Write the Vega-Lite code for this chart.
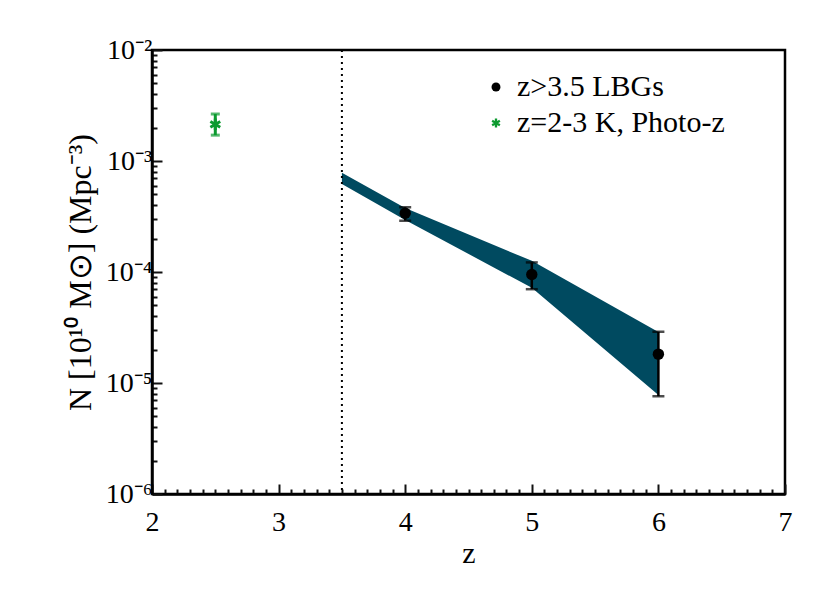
{
  "$schema": "https://vega.github.io/schema/vega-lite/v6.json",
  "width": 633,
  "height": 444,
  "autosize": "none",
  "padding": {"left": 152, "top": 50, "right": 45, "bottom": 99},
  "background": "white",
  "config": {
    "view": {"stroke": "black", "strokeWidth": 2.5},
    "font": "Liberation Serif",
    "legend": {"orient": "none", "legendX": 329, "legendY": 22, "title": null, "labelFont": "Liberation Serif", "labelFontSize": 30, "labelLimit": 0, "labelColor": "black", "symbolSize": 80, "rowPadding": 6, "labelOffset": 6, "symbolStrokeWidth": 0}
  },
  "datasets": {
    "band": [
      {"z": 3.5, "lo": 0.00062, "hi": 0.000785},
      {"z": 4, "lo": 0.000294, "hi": 0.000377},
      {"z": 5, "lo": 0.000072, "hi": 0.000126},
      {"z": 6, "lo": 0.0000078, "hi": 0.0000288}
    ],
    "pts": [
      {"series": "z>3.5 LBGs", "z": 4, "n": 0.000338, "lo": 0.00029, "hi": 0.000383},
      {"series": "z>3.5 LBGs", "z": 5, "n": 0.000095, "lo": 0.00007, "hi": 0.000122},
      {"series": "z>3.5 LBGs", "z": 6, "n": 0.0000182, "lo": 0.0000076, "hi": 0.000029},
      {"series": "z=2-3 K, Photo-z", "z": 2.5, "n": 0.00214, "lo": 0.00171, "hi": 0.00265}
    ],
    "cut": [{"z": 3.5}]
  },
  "layer": [
    {
      "data": {"name": "band"},
      "mark": {"type": "area", "color": "#004a60", "opacity": 1},
      "encoding": {
        "x": {"field": "z", "type": "quantitative",
          "scale": {"domain": [2, 7], "nice": false, "zero": false},
          "axis": {"orient": "bottom", "title": "z", "titleFontSize": 30, "titleFont": "Liberation Serif", "titleFontWeight": "normal", "titleColor": "black", "titlePadding": 2,
            "grid": false, "domainColor": "black", "domainWidth": 2.5,
            "values": [2,2.1,2.2,2.3,2.4,2.5,2.6,2.7,2.8,2.9,3,3.1,3.2,3.3,3.4,3.5,3.6,3.7,3.8,3.9,4,4.1,4.2,4.3,4.4,4.5,4.6,4.7,4.8,4.9,5,5.1,5.2,5.3,5.4,5.5,5.6,5.7,5.8,5.9,6,6.1,6.2,6.3,6.4,6.5,6.6,6.7,6.8,6.9,7],
            "tickSize": {"condition": {"test": "abs(datum.value - round(datum.value)) < 0.01", "value": -10}, "value": -5},
            "tickColor": "#111111", "tickWidth": 2,
            "labelExpr": "abs(datum.value - round(datum.value)) < 0.01 ? format(datum.value, 'd') : ''",
            "labelFlush": false, "labelColor": "black",
            "labelFont": "Liberation Serif", "labelFontSize": 28, "labelPadding": 24}},
        "y": {"field": "lo", "type": "quantitative",
          "scale": {"type": "log", "domain": [0.000001, 0.01], "nice": false},
          "axis": {"orient": "left", "title": "N [10¹⁰ M⊙] (Mpc⁻³)", "titleFontSize": 32, "titleFont": "Liberation Serif", "titleFontWeight": "normal", "titleColor": "black", "titlePadding": 8,
            "grid": false, "domainColor": "black", "domainWidth": 2.5,
            "values": [1e-6,2e-6,3e-6,4e-6,5e-6,6e-6,7e-6,8e-6,9e-6,1e-5,2e-5,3e-5,4e-5,5e-5,6e-5,7e-5,8e-5,9e-5,1e-4,2e-4,3e-4,4e-4,5e-4,6e-4,7e-4,8e-4,9e-4,1e-3,2e-3,3e-3,4e-3,5e-3,6e-3,7e-3,8e-3,9e-3,1e-2],
            "tickSize": {"condition": {"test": "abs(log(datum.value)/LN10 - round(log(datum.value)/LN10)) < 0.001", "value": -10}, "value": -5},
            "tickColor": "#111111", "tickWidth": 2,
            "labelExpr": "abs(log(datum.value)/LN10 - round(log(datum.value)/LN10)) < 0.001 ? '10' + ['⁻⁶','⁻⁵','⁻⁴','⁻³','⁻²'][round(log(datum.value)/LN10) + 6] : ''",
            "labelFlush": false, "labelColor": "black",
            "labelFont": "Liberation Serif", "labelFontSize": 28, "labelPadding": 10}},
        "y2": {"field": "hi"}
      }
    },
    {
      "data": {"name": "cut"},
      "mark": {"type": "rule", "color": "black", "strokeWidth": 2, "strokeDash": [2, 4]},
      "encoding": {
        "x": {"field": "z", "type": "quantitative", "axis": null}
      }
    },
    {
      "data": {"name": "pts"},
      "transform": [{"filter": "datum.series == 'z>3.5 LBGs'"}],
      "mark": {"type": "errorbar", "color": "black", "ticks": {"size": 12, "thickness": 2.5, "color": "black"}, "rule": {"strokeWidth": 2.5, "color": "black"}},
      "encoding": {
        "x": {"field": "z", "type": "quantitative", "axis": null},
        "y": {"field": "lo", "type": "quantitative", "axis": null},
        "y2": {"field": "hi"}
      }
    },
    {
      "data": {"name": "pts"},
      "transform": [{"filter": "datum.series != 'z>3.5 LBGs'"}],
      "mark": {"type": "errorbar", "color": "#0c9a2f", "ticks": {"size": 9, "thickness": 3, "color": "#0c9a2f"}, "rule": {"strokeWidth": 3, "color": "#0c9a2f"}},
      "encoding": {
        "x": {"field": "z", "type": "quantitative", "axis": null},
        "y": {"field": "lo", "type": "quantitative", "axis": null},
        "y2": {"field": "hi"}
      }
    },
    {
      "data": {"name": "pts"},
      "mark": {"type": "point", "filled": true, "opacity": 1, "size": 130},
      "encoding": {
        "x": {"field": "z", "type": "quantitative", "axis": null},
        "y": {"field": "n", "type": "quantitative", "axis": null},
        "color": {"field": "series", "type": "nominal",
          "scale": {"domain": ["z>3.5 LBGs", "z=2-3 K, Photo-z"], "range": ["black", "#0c9a2f"]}},
        "shape": {"field": "series", "type": "nominal",
          "scale": {"domain": ["z>3.5 LBGs", "z=2-3 K, Photo-z"], "range": ["circle", "M-0.26,-1L0.26,-1L0.26,1L-0.26,1ZM0.736,-0.725L0.996,-0.275L-0.736,0.725L-0.996,0.275ZM0.996,0.275L0.736,0.725L-0.996,-0.275L-0.736,-0.725Z"]}}
      }
    }
  ],
  "resolve": {"axis": {"x": "independent", "y": "independent"}}
}
